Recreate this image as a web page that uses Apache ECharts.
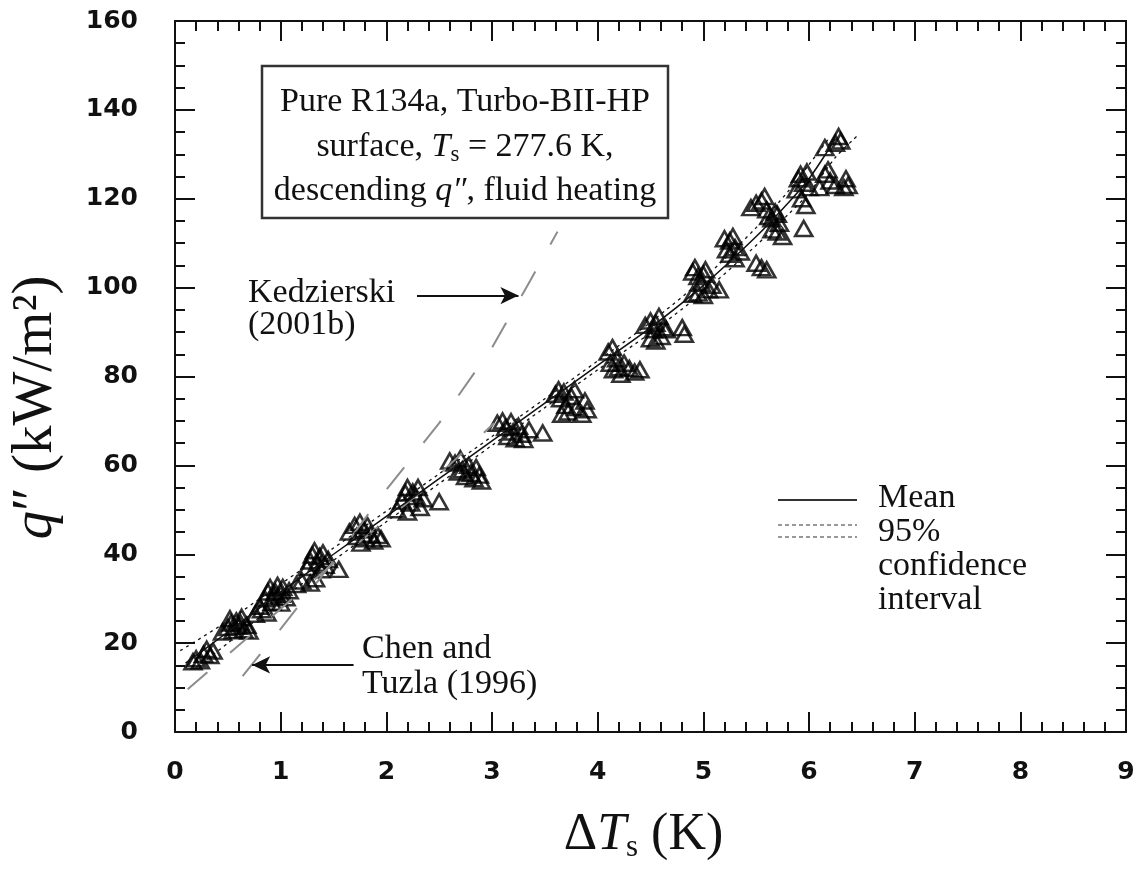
<!DOCTYPE html>
<html>
<head>
<meta charset="utf-8">
<title>q'' vs dTs, R134a Turbo-BII-HP</title>
<script src="https://cdn.jsdelivr.net/npm/echarts@6.0.0/dist/echarts.min.js"></script>
<style>
  html, body { margin: 0; padding: 0; background: #fff; }
  #main { width: 1138px; height: 873px; }
</style>
</head>
<body>
<div id="main"></div>
<script>
// measured points [dTs (K), q'' (kW/m2)]
const measured = [
  [0.17, 15.8], [0.2, 16.5], [0.24, 16], [0.27, 17.5], [0.3, 18.6], [0.33, 17.2], [0.36, 18.2],
  [0.45, 22.5], [0.5, 23.5], [0.52, 25.5], [0.53, 24.5], [0.55, 22.8], [0.58, 25], [0.6, 23.8],
  [0.62, 24.5], [0.63, 25.8], [0.65, 23], [0.68, 24], [0.7, 22.7],
  [0.76, 26.5], [0.8, 28.3], [0.82, 27.5], [0.87, 26.8],
  [0.85, 30], [0.88, 31.5], [0.9, 32.5], [0.92, 29.2], [0.93, 30.5], [0.95, 31.5], [0.97, 33],
  [1.0, 31], [1.0, 29], [1.02, 32.5], [1.05, 30.2], [1.08, 31.8],
  [1.15, 33.2], [1.2, 34], [1.28, 33.5], [1.33, 34.5],
  [1.25, 37], [1.28, 38.5], [1.3, 39.8], [1.32, 40.8], [1.35, 38], [1.37, 39.5], [1.38, 36.5],
  [1.4, 40.3], [1.42, 37.5], [1.45, 38.8], [1.55, 36.6],
  [1.65, 45], [1.7, 46.5], [1.72, 44], [1.75, 47.2], [1.76, 42.5], [1.78, 45.5], [1.8, 43.5],
  [1.82, 46.5], [1.85, 44.5], [1.88, 43], [1.92, 44.2], [1.95, 43.5],
  [2.1, 50], [2.15, 52], [2.18, 53.8], [2.2, 55], [2.2, 49.5], [2.23, 51.5], [2.25, 54],
  [2.28, 53], [2.3, 55], [2.32, 50.5], [2.35, 52.5], [2.5, 51.8],
  [2.6, 61], [2.65, 60.5], [2.68, 58.5], [2.7, 61.5], [2.72, 59], [2.75, 57.5], [2.78, 60],
  [2.8, 58.2], [2.83, 57], [2.85, 59.5], [2.88, 57.8], [2.9, 56.5],
  [3.05, 69.5], [3.1, 70], [3.13, 68.5], [3.15, 66.5], [3.18, 69.8], [3.2, 67.5], [3.22, 66],
  [3.25, 68.8], [3.28, 67], [3.3, 65.8], [3.35, 68], [3.48, 67.3],
  [3.6, 76], [3.63, 77], [3.65, 75], [3.66, 71.5], [3.68, 76.5], [3.7, 73.5], [3.72, 72],
  [3.75, 75.5], [3.78, 77], [3.8, 73], [3.85, 71.5], [3.88, 74.5], [3.9, 72.5],
  [4.1, 85.5], [4.12, 83], [4.14, 86.5], [4.15, 81.5], [4.18, 84], [4.2, 82], [4.22, 80.5],
  [4.25, 83], [4.3, 81.8], [4.35, 81], [4.4, 81.5],
  [4.45, 91.5], [4.5, 92.5], [4.5, 88.5], [4.53, 90.5], [4.55, 92], [4.55, 88], [4.58, 93.5],
  [4.6, 89], [4.62, 91], [4.65, 90.5], [4.8, 91], [4.82, 89.5],
  [4.9, 103.5], [4.9, 98.5], [4.92, 104.5], [4.95, 102.5], [4.95, 98.8], [4.98, 101], [5.0, 103],
  [5.0, 98.2], [5.02, 104], [5.05, 99.5], [5.08, 100.5], [5.15, 99.5],
  [5.2, 111], [5.22, 108.5], [5.25, 110.5], [5.25, 107.5], [5.28, 111.5], [5.3, 109], [5.3, 106.5],
  [5.35, 108], [5.5, 105.5], [5.55, 104.5], [5.6, 104],
  [5.45, 118], [5.5, 119], [5.55, 119.5], [5.58, 120.5], [5.6, 117.5], [5.62, 116], [5.65, 115.5],
  [5.65, 113], [5.68, 117], [5.7, 116.5], [5.7, 112.5], [5.72, 114.5], [5.75, 111.5], [5.95, 113.3],
  [5.88, 122], [5.9, 124.5], [5.92, 125.5], [5.93, 120], [5.95, 123.5], [5.97, 118.5], [5.98, 126],
  [6.0, 122.5],
  [6.1, 122.5], [6.15, 125.5], [6.15, 131.5], [6.18, 126.5], [6.2, 124], [6.25, 123], [6.25, 132.5],
  [6.28, 134], [6.3, 133], [6.33, 122.5], [6.35, 124.5], [6.37, 123]
]

// fitted mean and its 95% confidence band
const meanFit = [
  [0.1, 15.5], [0.5, 22.5], [1, 31.5], [1.5, 40], [2, 48.5], [2.5, 57], [3, 65.5], [3.5, 74],
  [4, 82.5], [4.5, 91], [5, 100.5], [5.5, 111.5], [5.8, 119], [6, 124.5], [6.25, 133.5]
]
const ciUpper = [
  [0.05, 18.3], [0.5, 25], [1, 33.3], [1.5, 41.4], [2, 49.7], [2.5, 58.1], [3, 66.5], [3.5, 75],
  [4, 83.5], [4.5, 92.2], [5, 102], [5.5, 113.5], [5.8, 121.6], [6, 127.7], [6.2, 134]
]
const ciLower = [
  [0.2, 14.5], [0.5, 20], [1, 29.7], [1.5, 38.6], [2, 47.3], [2.5, 55.9], [3, 64.5], [3.5, 73],
  [4, 81.5], [4.5, 89.8], [5, 99], [5.5, 109.5], [5.8, 116.4], [6, 121.3], [6.25, 129.3], [6.45, 134]
]

// literature predictions (grey long dashes)
const kedzierski = [
  [0.64, 12.6], [1, 23.2], [1.5, 38.5], [2, 54.5], [2.5, 69.5], [3, 86.5], [3.36, 101.5], [3.62, 112.6]
]
const chenTuzla = [
  [0.12, 9.6], [0.7, 21.5], [1.5, 38], [2.3, 53.5], [3.02, 69.5]
]

const SERIF = '"Liberation Serif", "Times New Roman", serif'
const SANS = '"DejaVu Sans", Arial, sans-serif'
const INK = '#111'

const chart = echarts.init(document.getElementById('main'))

function frameAxis(position, showLabels) {
  return {
    type: 'value',
    position: position,
    axisLine: { show: true, onZero: false, lineStyle: { color: INK, width: 2 } },
    axisTick: { show: true, inside: true, length: 20, lineStyle: { color: INK, width: 2 } },
    minorTick: { show: true, length: 10, lineStyle: { color: INK, width: 2 } },
    splitLine: { show: false },
    minorSplitLine: { show: false },
    axisLabel: {
      show: showLabels,
      color: INK,
      fontFamily: SANS,
      fontWeight: 'bold',
      fontSize: 25
    }
  }
}

const xBottom = frameAxis('bottom', true)
Object.assign(xBottom, {
  min: 0, max: 9, interval: 1,
  name: '{d|Δ}{t|T}{s|s}{d| (K)}',
  nameLocation: 'middle',
  nameGap: 75,
  nameTextStyle: {
    padding: [0, 14, 0, 0],
    rich: {
      d: { fontFamily: SERIF, fontSize: 52, lineHeight: 56, color: INK },
      t: { fontFamily: SERIF, fontStyle: 'italic', fontSize: 52, lineHeight: 56, color: INK },
      s: { fontFamily: SERIF, fontSize: 31, lineHeight: 31, padding: [25, 0, 0, 0], color: INK }
    }
  }
})
xBottom.axisLabel.margin = 28
xBottom.minorTick.splitNumber = 5

const xTop = frameAxis('top', false)
Object.assign(xTop, { min: 0, max: 9, interval: 1 })
xTop.minorTick.splitNumber = 5

const yLeft = frameAxis('left', true)
Object.assign(yLeft, {
  min: 0, max: 160, interval: 20,
  name: '{q|q}{n|″ (kW/m²)}',
  nameLocation: 'middle',
  nameRotate: 90,
  nameGap: 110,
  nameTextStyle: {
    padding: [0, 62, 0, 0],
    rich: {
      q: { fontFamily: SERIF, fontStyle: 'italic', fontSize: 57, color: INK },
      n: { fontFamily: SERIF, fontSize: 57, color: INK }
    }
  }
})
yLeft.axisLabel.margin = 37
yLeft.minorTick.splitNumber = 4

const yRight = frameAxis('right', false)
Object.assign(yRight, { min: 0, max: 160, interval: 20 })
yRight.minorTick.splitNumber = 4

const boxRich = {
  i: { fontFamily: SERIF, fontStyle: 'italic', fontSize: 34, lineHeight: 40, fill: INK },
  s: { fontFamily: SERIF, fontSize: 23, lineHeight: 24, padding: [16, 0, 0, 0], fill: INK }
}
function label(text, x, y, align, rich) {
  return {
    type: 'text',
    x: x,
    y: y,
    style: {
      text: text,
      fontFamily: SERIF,
      fontSize: 34,
      lineHeight: 40,
      fill: INK,
      align: align || 'left',
      verticalAlign: 'middle',
      rich: rich
    }
  }
}

const option = {
  animation: false,
  backgroundColor: '#fff',
  grid: { left: 174, right: 12, top: 21, bottom: 141 },
  xAxis: [xBottom, xTop],
  yAxis: [yLeft, yRight],
  series: [
    {
      name: 'Kedzierski (2001b)',
      type: 'line',
      data: kedzierski,
      showSymbol: false,
      silent: true,
      lineStyle: { color: '#8c8c8c', width: 2, type: [28, 31] },
      markLine: {
        silent: true,
        symbol: ['none', 'arrow'],
        symbolSize: [13, 18],
        label: { show: false },
        lineStyle: { color: INK, width: 2, type: 'solid' },
        data: [
          [{ coord: [2.29, 98.2] }, { coord: [3.25, 98.2] }],
          [{ coord: [1.69, 15.1] }, { coord: [0.73, 15.1] }]
        ]
      }
    },
    {
      name: 'Chen and Tuzla (1996)',
      type: 'line',
      data: chenTuzla,
      showSymbol: false,
      silent: true,
      lineStyle: { color: '#8c8c8c', width: 2, type: [26, 30] }
    },
    {
      name: 'Measured',
      type: 'scatter',
      data: measured,
      symbol: 'triangle',
      symbolSize: [17, 15],
      itemStyle: { color: 'rgba(255,255,255,0)', borderColor: '#000', borderWidth: 2.6 }
    },
    {
      name: 'Mean',
      type: 'line',
      data: meanFit,
      showSymbol: false,
      smooth: 0.3,
      lineStyle: { color: INK, width: 1.5 }
    },
    {
      name: '95% upper',
      type: 'line',
      data: ciUpper,
      showSymbol: false,
      smooth: 0.3,
      lineStyle: { color: INK, width: 1.3, type: [3, 4] }
    },
    {
      name: '95% lower',
      type: 'line',
      data: ciLower,
      showSymbol: false,
      smooth: 0.3,
      lineStyle: { color: INK, width: 1.3, type: [3, 4] }
    }
  ],
  graphic: [
    {
      type: 'rect',
      shape: { x: 262, y: 66, width: 406, height: 152 },
      style: { fill: '#fff', stroke: '#333', lineWidth: 2.5 }
    },
    label('Pure R134a, Turbo-BII-HP', 465, 102, 'center'),
    label('surface, {i|T}{s|s} = 277.6 K,', 465, 147, 'center', boxRich),
    label('descending {i|q″}, fluid heating', 465, 191, 'center', boxRich),
    label('Kedzierski', 248, 293),
    label('(2001b)', 248, 325),
    label('Chen and', 362, 649),
    label('Tuzla (1996)', 362, 684),
    {
      type: 'line',
      shape: { x1: 778, y1: 500, x2: 857, y2: 500 },
      style: { stroke: '#333', lineWidth: 2 }
    },
    {
      type: 'line',
      shape: { x1: 778, y1: 525, x2: 857, y2: 525 },
      style: { stroke: '#333', lineWidth: 1.2, lineDash: [4, 3] }
    },
    {
      type: 'line',
      shape: { x1: 778, y1: 537, x2: 857, y2: 537 },
      style: { stroke: '#333', lineWidth: 1.2, lineDash: [4, 3] }
    },
    label('Mean', 878, 498),
    label('95%', 878, 532),
    label('confidence', 878, 566),
    label('interval', 878, 600)
  ]
}

chart.setOption(option)
window.addEventListener('resize', () => chart.resize())
</script>
</body>
</html>
